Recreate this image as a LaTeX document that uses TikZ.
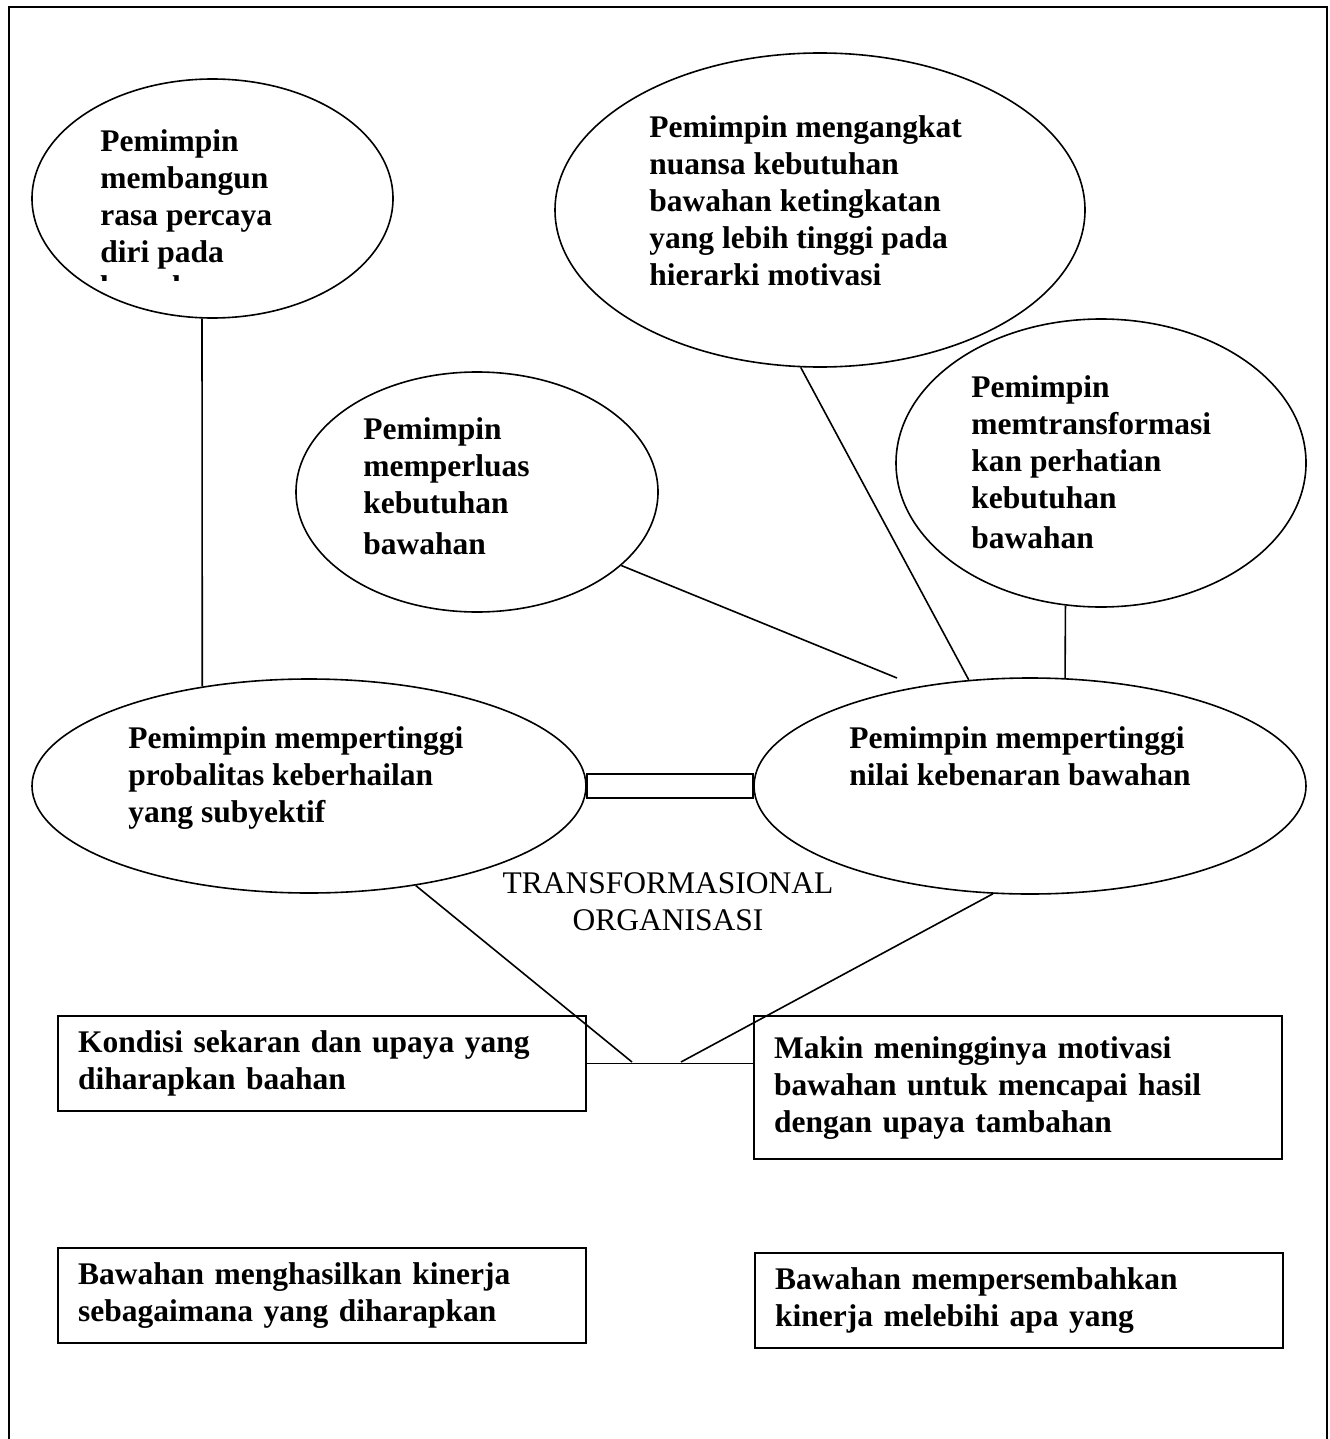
\documentclass[tikz,border=0pt]{standalone}
\usepackage{fontspec}
\setmainfont{Liberation Serif}
\usetikzlibrary{shapes.geometric}
\newcommand{\ukuran}{\fontsize{15.75}{18.5}\selectfont}

\begin{document}
\begin{tikzpicture}[x=0.5pt,y=-0.5pt,font=\ukuran,
  elips/.style={draw,ellipse,line width=0.8pt,inner sep=0pt},
  isi/.style={anchor=north west,align=left,inner sep=0pt,font=\ukuran\bfseries},
  kotak/.style={draw,line width=1.1pt,anchor=north west,align=left,inner xsep=10pt,inner ysep=0pt,text width=244pt,font=\ukuran\bfseries},
  garis/.style={line width=0.8pt}]
\useasboundingbox (0,0) rectangle (1329,1439);
%\draw[step=100,very thin,color=gray] (0,0) grid (1329,1439);
\draw[line width=1.1pt] (9,1439) -- (9,7) -- (1327,7) -- (1327,1439);
\node[elips,minimum width=180.5pt,minimum height=119.5pt] (e1) at (212.5,198.5) {};
\node[elips,minimum width=265pt,minimum height=157pt] (e2) at (820,210) {};
\node[elips,minimum width=181pt,minimum height=120pt] (e3) at (477,492) {};
\node[elips,minimum width=205pt,minimum height=144pt] (e4) at (1101,463) {};
\node[elips,minimum width=277pt,minimum height=107pt] (e5) at (309,786) {};
\node[elips,minimum width=276pt,minimum height=108pt] (e6) at (1030,786) {};
\node[isi] (t1) at (100,129) {Pemimpin\\membangun\\rasa percaya\\diri pada};
\begin{scope}
\clip (90,273) rectangle (300,280);
\node[isi] (t1b) at (100,275) {bawahan};
\end{scope}
\node[isi] (t2) at (649,115) {Pemimpin mengangkat\\nuansa kebutuhan\\bawahan ketingkatan\\yang lebih tinggi pada\\hierarki motivasi};
\node[isi] (t3) at (363,417) {Pemimpin\\memperluas\\kebutuhan\\[2pt]bawahan};
\node[isi] (t4) at (971,375) {Pemimpin\\memtransformasi\\kan perhatian\\kebutuhan\\[1.5pt]bawahan};
\node[isi] (t5) at (128,726) {Pemimpin mempertinggi\\probalitas keberhailan\\yang subyektif};
\node[isi] (t6) at (849,726) {Pemimpin mempertinggi\\nilai kebenaran bawahan};
\node[anchor=north,align=center,inner sep=0pt] (judul) at (668,872) {TRANSFORMASIONAL\\ORGANISASI};
\node[kotak,minimum height=47.5pt] (k1) at (57,1015) {Kondisi sekaran dan upaya yang\\diharapkan baahan};
\node[kotak,minimum height=71.5pt] (k2) at (753,1015) {Makin meningginya motivasi\\bawahan untuk mencapai hasil\\dengan upaya tambahan};
\node[kotak,minimum height=47.5pt] (k3) at (57,1247) {Bawahan menghasilkan kinerja\\sebagaimana yang diharapkan};
\node[kotak,minimum height=47.5pt] (k4) at (754,1252) {Bawahan mempersembahkan\\kinerja melebihi apa yang};
\coordinate (ujung) at (897,678);
\coordinate (temuA) at (632,1062);
\coordinate (temuB) at (681,1062);
\draw[garis] (e1.265) -- (e5.137);
\draw[garis] (e2.263) -- (e6.120);
\draw[garis] (e3.333) -- (ujung);
\draw[garis] (e4.256) -- (e6.72);
\draw[garis] ([yshift=6pt]e5.east) rectangle ([yshift=-6pt]e6.west);
\draw[garis] (e5.-43) -- (temuA);
\draw[garis] (e6.251) -- (temuB);
\draw[garis] (k1.east) -- (k1.east -| k2.west);
\end{tikzpicture}
\end{document}
